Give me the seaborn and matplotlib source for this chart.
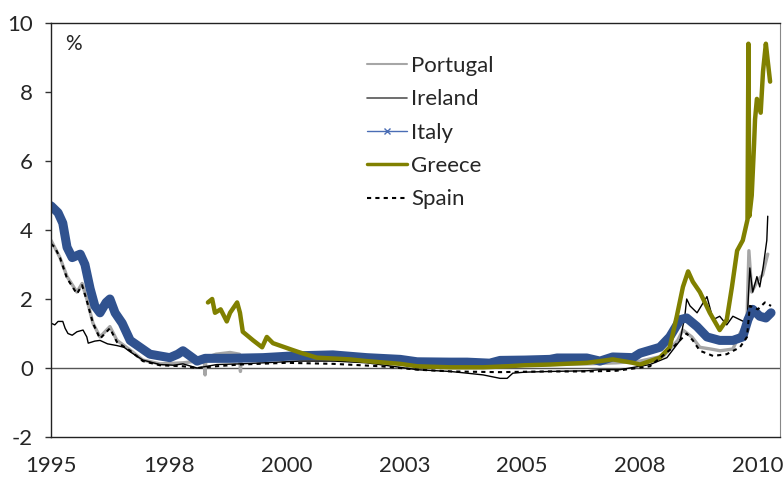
import matplotlib
matplotlib.use("Agg")
import matplotlib.pyplot as plt
from matplotlib.lines import Line2D
import pandas as pd
import seaborn as sns

# ---------------------------------------------------------------------------
# Values (x in fractional years, y in %)
# ---------------------------------------------------------------------------
portugal_x = [1995.00, 1995.19, 1995.34, 1995.55, 1995.66, 1995.76, 1995.89, 1996.04,
              1996.25, 1996.40, 1996.68, 1996.95, 1997.31, 1997.80, 1998.10, 1998.25,
              1998.27, 1998.29, 1998.50, 1998.80, 1999.00, 1999.02, 1999.04, 1999.50,
              2000.30, 2001.30, 2002.40, 2003.50, 2004.50, 2005.50, 2006.40, 2007.00,
              2007.50, 2008.00, 2008.30, 2008.41, 2008.60, 2008.77, 2009.00, 2009.20,
              2009.47, 2009.62, 2009.77, 2009.81, 2009.87, 2009.98, 2010.10, 2010.19, 2010.21]
portugal_y = [3.7, 3.2, 2.65, 2.2, 2.45, 2.0, 1.3, 0.9,
              1.2, 0.8, 0.52, 0.23, 0.12, 0.15, 0.2, 0.25,
              -0.2, 0.3, 0.4, 0.45, 0.4, -0.1, 0.35, 0.3,
              0.25, 0.25, 0.2, 0.12, 0.1, 0.1, 0.12, 0.15,
              0.2, 0.35, 0.8, 1.1, 0.9, 0.6, 0.55, 0.5,
              0.55, 1.0, 1.4, 3.4, 2.2, 2.5, 2.7, 3.2, 3.3]

ireland_x = [1995.00, 1995.08, 1995.15, 1995.25, 1995.30, 1995.36, 1995.45, 1995.55,
             1995.68, 1995.76, 1995.79, 1995.93, 1996.04, 1996.20, 1996.40, 1996.55,
             1996.68, 1996.95, 1997.31, 1997.60, 1997.80, 1998.10, 1998.52, 1999.00,
             1999.50, 2000.28, 2001.00, 2001.70, 2002.41, 2002.77, 2003.47, 2003.83,
             2004.17, 2004.53, 2004.68, 2004.80, 2005.06, 2005.59, 2006.37, 2006.65,
             2007.07, 2007.71, 2008.07, 2008.35, 2008.45, 2008.49, 2008.56, 2008.71,
             2008.92, 2009.05, 2009.19, 2009.34, 2009.47, 2009.62, 2009.77, 2009.83,
             2009.89, 2009.98, 2010.04, 2010.11, 2010.19, 2010.21]
ireland_y = [1.3, 1.25, 1.35, 1.35, 1.15, 1.0, 0.95, 1.05,
             1.1, 0.9, 0.72, 0.78, 0.8, 0.7, 0.65, 0.6,
             0.47, 0.23, 0.1, 0.08, 0.12, 0.0, 0.1, 0.12,
             0.15, 0.2, 0.2, 0.15, 0.02, -0.05, -0.1, -0.15,
             -0.2, -0.3, -0.3, -0.15, -0.12, -0.1, -0.08, -0.05,
             -0.05, 0.1, 0.3, 0.8, 1.5, 2.0, 1.8, 1.6,
             2.07, 1.4, 1.5, 1.25, 1.5, 1.4, 1.3, 2.9,
             2.2, 2.65, 2.35, 2.9, 3.7, 4.4]

italy_x = [1995.00, 1995.15, 1995.25, 1995.34, 1995.45, 1995.62, 1995.72, 1995.83,
           1995.93, 1996.04, 1996.17, 1996.25, 1996.36, 1996.51, 1996.68, 1996.89,
           1997.10, 1997.31, 1997.52, 1997.69, 1997.80, 1997.95, 1998.10, 1998.27,
           1998.80, 1999.50, 2000.13, 2000.98, 2001.70, 2002.41, 2002.77, 2003.47,
           2003.83, 2004.31, 2004.53, 2005.06, 2005.59, 2005.74, 2006.37, 2006.65,
           2006.92, 2007.35, 2007.50, 2007.92, 2008.13, 2008.35, 2008.49, 2008.71,
           2008.92, 2009.19, 2009.47, 2009.68, 2009.79, 2009.89, 2010.04, 2010.17, 2010.28]
italy_y = [4.7, 4.5, 4.2, 3.5, 3.2, 3.3, 3.0, 2.3,
           1.8, 1.6, 1.9, 2.0, 1.6, 1.3, 0.8, 0.6,
           0.4, 0.35, 0.3, 0.4, 0.5, 0.35, 0.2, 0.28,
           0.28, 0.3, 0.35, 0.38, 0.3, 0.25, 0.18, 0.17,
           0.17, 0.14, 0.22, 0.23, 0.25, 0.29, 0.29, 0.2,
           0.32, 0.3, 0.43, 0.6, 0.9, 1.4, 1.45, 1.2,
           0.9, 0.8, 0.8, 0.9, 1.4, 1.7, 1.5, 1.45, 1.6]

greece_x = [1998.33, 1998.42, 1998.48, 1998.60, 1998.73, 1998.80, 1998.95, 1999.01,
            1999.07, 1999.29, 1999.48, 1999.58, 1999.71, 2000.13, 2000.28, 2000.64,
            2001.34, 2001.70, 2002.41, 2002.77, 2003.47, 2004.17, 2004.68, 2005.06,
            2005.59, 2006.37, 2006.65, 2006.92, 2007.35, 2007.50, 2007.92, 2008.13,
            2008.28, 2008.41, 2008.52, 2008.62, 2008.77, 2008.98, 2009.19, 2009.34,
            2009.45, 2009.56, 2009.68, 2009.78, 2009.80, 2009.82, 2009.87, 2009.92,
            2009.94, 2009.98, 2010.06, 2010.11, 2010.17, 2010.21, 2010.26]
greece_y = [1.9, 2.0, 1.6, 1.7, 1.35, 1.6, 1.9, 1.6,
            1.05, 0.8, 0.6, 0.9, 0.72, 0.52, 0.45, 0.3,
            0.25, 0.2, 0.12, 0.05, 0.02, 0.02, 0.05, 0.08,
            0.1, 0.15, 0.2, 0.25, 0.15, 0.1, 0.3, 0.6,
            1.5, 2.35, 2.8, 2.5, 2.2, 1.6, 1.1, 1.4,
            2.35, 3.4, 3.7, 4.3, 9.4, 4.4, 5.0, 6.5,
            7.2, 7.8, 7.4, 8.6, 9.4, 8.9, 8.3]

spain_x = [1995.00, 1995.08, 1995.19, 1995.34, 1995.55, 1995.66, 1995.76, 1995.89,
           1996.04, 1996.25, 1996.40, 1996.68, 1996.95, 1997.31, 1997.80, 1998.10,
           1998.50, 1999.00, 2000.00, 2001.00, 2002.00, 2002.80, 2003.50, 2004.50,
           2005.50, 2006.40, 2007.00, 2007.71, 2008.20, 2008.49, 2008.62, 2008.77,
           2009.05, 2009.34, 2009.62, 2009.77, 2009.83, 2010.00, 2010.15, 2010.28]
spain_y = [3.6, 3.5, 3.2, 2.6, 2.15, 2.4, 1.95, 1.3,
           0.85, 1.15, 0.75, 0.5, 0.2, 0.08, 0.05, 0.0,
           0.05, 0.1, 0.15, 0.12, 0.05, -0.05, -0.1, -0.12,
           -0.1, -0.1, -0.08, 0.05, 0.6, 1.0, 0.8, 0.5,
           0.35, 0.4, 0.6, 0.9, 1.8, 1.7, 1.9, 1.8]

tick_pos = [1995, 1997.5, 2000, 2002.5, 2005, 2007.5, 2010]
tick_labels = ["1995", "1998", "2000", "2003", "2005", "2008", "2010"]
ytick_vals = [-2, 0, 2, 4, 6, 8, 10]

sns.set_style("white")
plt.rcParams["font.family"] = ["Lato", "DejaVu Sans"]
plt.rcParams["axes.unicode_minus"] = False

fig = plt.figure(figsize=(7.83, 4.79), dpi=100)
ax = fig.add_axes([51 / 783, 42 / 479, 729 / 783, 414 / 479])

# series styles, drawn in legend order
series = [
    ("Portugal", portugal_x, portugal_y, dict(color="#A6A6A6", lw=2.4)),
    ("Ireland", ireland_x, ireland_y, dict(color="black", lw=1.0)),
    ("Italy", italy_x, italy_y, dict(color="#30528F", lw=6.5)),
    ("Greece", greece_x, greece_y, dict(color="#808000", lw=3.2)),
    ("Spain", spain_x, spain_y, dict(color="black", lw=1.5, linestyle=(0, (2, 2)))),
]
for name, xs, ys, style in series:
    df = pd.DataFrame({"year": xs, "value": ys})
    sns.lineplot(data=df, x="year", y="value", ax=ax, estimator=None,
                 sort=False, legend=False, **style)

ax.axhline(0, color="#555555", lw=1.0, zorder=0.5)

ax.set_xlim(1995, 2010.47)
ax.set_ylim(-2, 10)
ax.set_xticks(tick_pos)
ax.set_xticklabels(tick_labels)
ax.set_yticks(ytick_vals)
ax.set_xlabel("")
ax.set_ylabel("")
ax.tick_params(axis="x", length=0, pad=14, labelsize=16)
ax.tick_params(axis="y", left=True, length=4, width=1, direction="out",
               pad=9, labelsize=16, color="#333333")

for side in ["left", "bottom", "top"]:
    ax.spines[side].set_color("#222222")
    ax.spines[side].set_linewidth(1.0)
ax.spines["right"].set_color("#888888")

ax.text(0.02, 0.95, "%", transform=ax.transAxes, fontsize=15, ha="left", va="center")

handles = [
    Line2D([], [], color="#A6A6A6", lw=1.5),
    Line2D([], [], color="#555555", lw=1.2),
    Line2D([], [], color="#4A6DB5", lw=1.0, marker="x", markersize=4),
    Line2D([], [], color="#808000", lw=2.5),
    Line2D([], [], color="black", lw=1.5, linestyle=(0, (2, 2))),
]
labels = ["Portugal", "Ireland", "Italy", "Greece", "Spain"]
ax.legend(handles, labels, loc="upper left", bbox_to_anchor=(0.433, 0.92),
          frameon=False, fontsize=16, handlelength=1.8, handletextpad=0.2,
          labelspacing=0.6, borderpad=0, borderaxespad=0)

fig.savefig("out.png", dpi=100)
